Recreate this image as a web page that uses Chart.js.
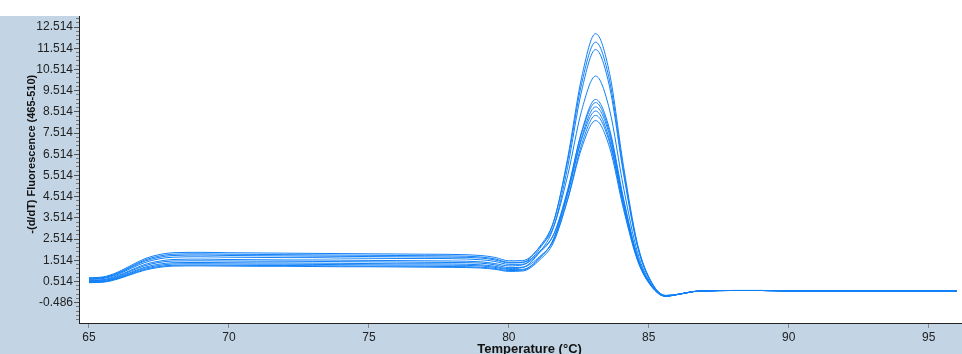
<!DOCTYPE html>
<html>
<head>
<meta charset="utf-8">
<script src="https://cdn.jsdelivr.net/npm/chart.js@4"></script>
<style>
  html, body { margin: 0; padding: 0; background: #ffffff; }
  #wrap { position: absolute; left: 0; top: 16px; width: 962px; height: 338px; background: #c3d5e5; }
</style>
</head>
<body>
<div id="wrap"><canvas id="melt"></canvas></div>
<script>
// temperature points (°C)
const temps = [65, 65.5, 66, 66.5, 67, 67.5, 68, 69, 70, 71, 72, 73, 74, 75, 76, 77, 78, 79, 79.5, 80, 80.5,
  81.1, 81.6, 82.1, 82.6, 83.1, 83.6, 84.1, 84.6, 85.1, 85.6, 86.1, 86.6, 87, 88, 89, 90, 92, 94, 96];

// -(d/dT) fluorescence per sample
const melt1 = [0.57, 0.60, 0.78, 1.05, 1.32, 1.47, 1.55, 1.57, 1.55, 1.54, 1.53, 1.53, 1.52, 1.51, 1.50, 1.49, 1.48, 1.44, 1.36, 1.25, 1.30,
  2.06, 3.32, 6.32, 10.13, 12.20, 10.32, 5.93, 2.27, 0.48, -0.14, -0.08, 0.04, 0.07, 0.09, 0.09, 0.07, 0.06, 0.06, 0.06];
const melt2 = [0.64, 0.68, 0.87, 1.18, 1.48, 1.65, 1.74, 1.76, 1.74, 1.73, 1.72, 1.71, 1.70, 1.69, 1.68, 1.67, 1.66, 1.62, 1.53, 1.39, 1.42,
  2.16, 3.35, 6.20, 9.84, 11.80, 9.98, 5.72, 2.19, 0.46, -0.15, -0.08, 0.04, 0.07, 0.09, 0.09, 0.07, 0.06, 0.06, 0.06];
const melt3 = [0.52, 0.55, 0.70, 0.95, 1.19, 1.33, 1.40, 1.41, 1.40, 1.39, 1.39, 1.38, 1.37, 1.36, 1.35, 1.35, 1.34, 1.30, 1.23, 1.12, 1.18,
  1.90, 3.08, 5.90, 9.50, 11.45, 9.69, 5.57, 2.14, 0.44, -0.15, -0.08, 0.04, 0.07, 0.09, 0.09, 0.07, 0.06, 0.06, 0.06];
const melt4 = [0.69, 0.73, 0.94, 1.27, 1.59, 1.78, 1.87, 1.89, 1.87, 1.86, 1.85, 1.84, 1.83, 1.82, 1.81, 1.80, 1.79, 1.74, 1.65, 1.49, 1.50,
  2.13, 3.10, 5.50, 8.57, 10.20, 8.60, 4.92, 1.87, 0.37, -0.16, -0.08, 0.04, 0.07, 0.09, 0.09, 0.07, 0.06, 0.06, 0.06];
const melt5 = [0.47, 0.50, 0.64, 0.87, 1.09, 1.22, 1.28, 1.29, 1.28, 1.27, 1.27, 1.26, 1.25, 1.24, 1.24, 1.23, 1.22, 1.19, 1.13, 1.03, 1.05,
  1.62, 2.54, 4.75, 7.58, 9.10, 7.69, 4.41, 1.69, 0.33, -0.17, -0.08, 0.04, 0.07, 0.09, 0.09, 0.07, 0.06, 0.06, 0.06];
const melt6 = [0.61, 0.65, 0.83, 1.13, 1.41, 1.58, 1.66, 1.68, 1.66, 1.65, 1.64, 1.64, 1.62, 1.61, 1.60, 1.60, 1.59, 1.54, 1.46, 1.32, 1.33,
  1.88, 2.73, 4.83, 7.52, 8.95, 7.54, 4.32, 1.64, 0.31, -0.17, -0.08, 0.04, 0.07, 0.09, 0.09, 0.07, 0.06, 0.06, 0.06];
const melt7 = [0.50, 0.52, 0.67, 0.91, 1.14, 1.27, 1.34, 1.35, 1.34, 1.33, 1.33, 1.32, 1.31, 1.30, 1.29, 1.29, 1.28, 1.25, 1.18, 1.08, 1.09,
  1.63, 2.51, 4.61, 7.31, 8.75, 7.40, 4.23, 1.62, 0.31, -0.17, -0.08, 0.04, 0.07, 0.09, 0.09, 0.07, 0.06, 0.06, 0.06];
const melt8 = [0.67, 0.70, 0.90, 1.22, 1.53, 1.71, 1.80, 1.82, 1.80, 1.79, 1.78, 1.77, 1.76, 1.75, 1.74, 1.73, 1.72, 1.67, 1.58, 1.42, 1.42,
  1.94, 2.73, 4.69, 7.21, 8.55, 7.19, 4.11, 1.56, 0.29, -0.18, -0.08, 0.04, 0.07, 0.09, 0.09, 0.07, 0.06, 0.06, 0.06];
const melt9 = [0.46, 0.48, 0.62, 0.84, 1.05, 1.18, 1.24, 1.25, 1.24, 1.23, 1.23, 1.22, 1.21, 1.21, 1.20, 1.19, 1.18, 1.15, 1.09, 0.99, 1.01,
  1.53, 2.37, 4.39, 6.97, 8.35, 7.06, 4.05, 1.55, 0.29, -0.18, -0.08, 0.04, 0.07, 0.09, 0.09, 0.07, 0.06, 0.06, 0.06];
const melt10 = [0.55, 0.58, 0.74, 1.01, 1.26, 1.41, 1.48, 1.49, 1.48, 1.47, 1.47, 1.46, 1.45, 1.44, 1.43, 1.42, 1.41, 1.38, 1.30, 1.17, 1.19,
  1.69, 2.46, 4.36, 6.80, 8.10, 6.83, 3.90, 1.49, 0.27, -0.18, -0.08, 0.04, 0.07, 0.09, 0.09, 0.07, 0.06, 0.06, 0.06];

// tick labels
const xTicks = [65, 70, 75, 80, 85, 90, 95];
const yTicks = [-0.486, 0.514, 1.514, 2.514, 3.514, 4.514, 5.514, 6.514, 7.514, 8.514, 9.514, 10.514, 11.514, 12.514];

const samples = [melt1, melt2, melt3, melt4, melt5, melt6, melt7, melt8, melt9, melt10];

// small ticks between the labelled ones
const yMinorTicks = [];
yTicks.forEach(v => { for (let k = 1; k < 5; k++) yMinorTicks.push(+(v + k * 0.2).toFixed(3)); });
yMinorTicks.unshift(-0.686, -0.886, -1.086, -1.286);
yMinorTicks.push(12.714, 12.914);

const Y_MIN = -1.443, Y_MAX = 13.033;

const plotBg = {
  id: 'plotBg',
  beforeDraw(chart) {
    const {ctx, chartArea: a} = chart;
    ctx.save();
    ctx.fillStyle = '#ffffff';
    ctx.fillRect(a.left, a.top, a.right - a.left, a.bottom - a.top);
    ctx.restore();
  }
};

// no overflow padding, so the plot touches the top and right edges
const noPad = s => { s.paddingTop = 0; s.paddingBottom = 0; s.paddingLeft = 0; s.paddingRight = 0; };

Chart.defaults.font.family = '"Liberation Sans", Arial, sans-serif';
Chart.defaults.font.size = 12;
Chart.defaults.color = '#222';

new Chart(document.getElementById('melt'), {
  type: 'line',
  data: {
    datasets: samples.map(s => ({
      data: temps.map((t, i) => ({x: t, y: s[i]})),
      borderColor: 'rgb(16,128,248)',
      borderWidth: 1,
      pointRadius: 0,
      fill: false,
      cubicInterpolationMode: 'monotone'
    }))
  },
  options: {
    animation: false,
    responsive: true,
    maintainAspectRatio: false,
    layout: { padding: 0 },
    plugins: { legend: { display: false }, tooltip: { enabled: false } },
    scales: {
      x: {
        type: 'linear',
        min: 64.643,
        max: 96.19,
        afterBuildTicks: s => { s.ticks = xTicks.map(v => ({value: v})); },
        afterFit: s => { s.height = 31; noPad(s); },
        ticks: { padding: 2, color: '#222', maxRotation: 0 },
        grid: { drawOnChartArea: false, tickLength: 5, color: '#8a8a8a' },
        border: { display: true, color: '#222', width: 1 },
        title: {
          display: true,
          text: '     Temperature (°C)',
          font: { weight: 'bold', size: 13 },
          color: '#111',
          padding: { top: 0, bottom: -3 }
        }
      },
      y: {
        min: Y_MIN,
        max: Y_MAX,
        weight: 1,
        afterBuildTicks: s => { s.ticks = yTicks.map(v => ({value: v})); },
        afterFit: s => { s.width = 79; noPad(s); },
        ticks: { padding: 1, color: '#222', callback: v => v.toFixed(3) },
        grid: { drawOnChartArea: false, tickLength: 5, color: '#555' },
        border: { display: true, color: '#222', width: 1 },
        title: {
          display: true,
          text: '          -(d/dT) Fluorescence (465-510)',
          font: { weight: 'bold', size: 11 },
          color: '#111',
          padding: { top: 25, bottom: 0 }
        }
      },
      yMinor: {
        position: 'left',
        min: Y_MIN,
        max: Y_MAX,
        weight: -1,
        afterBuildTicks: s => { s.ticks = yMinorTicks.map(v => ({value: v})); },
        afterFit: s => { s.width = 0; noPad(s); },
        ticks: { display: false },
        grid: { drawOnChartArea: false, tickLength: 3, color: '#777' },
        border: { display: false }
      }
    }
  },
  plugins: [plotBg]
});
</script>
</body>
</html>
